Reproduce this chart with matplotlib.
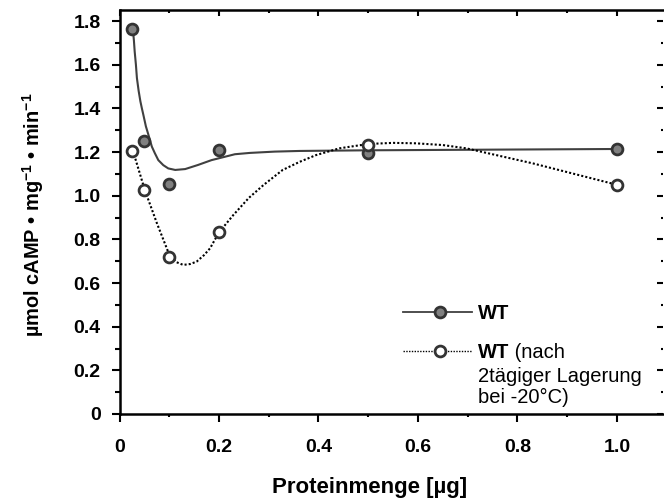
import matplotlib
matplotlib.use('Agg')
import matplotlib.pyplot as plt
from matplotlib.ticker import MultipleLocator

plt.rcParams['font.family'] = ['Liberation Sans', 'DejaVu Sans']
plt.rcParams['mathtext.fontset'] = 'custom'
plt.rcParams['mathtext.rm'] = 'Liberation Sans:bold'
plt.rcParams['mathtext.bf'] = 'Liberation Sans:bold'
plt.rcParams['mathtext.it'] = 'Liberation Sans:bold'
plt.rcParams['mathtext.default'] = 'regular'

# ---- data ----
protein = [0.025, 0.05, 0.1, 0.2, 0.5, 1.0]
wt = [1.762, 1.251, 1.055, 1.208, 1.196, 1.214]
wt_stored = [1.206, 1.025, 0.721, 0.833, 1.232, 1.049]

# fitted curves as drawn in the picture
wt_fit_x = [0.027, 0.029, 0.0305, 0.033, 0.035, 0.0385, 0.042, 0.045, 0.048,
            0.053, 0.058, 0.065, 0.071, 0.078, 0.088, 0.098, 0.112, 0.132,
            0.158, 0.185, 0.232, 0.262, 0.312, 0.362, 0.5, 0.75, 1.0]
wt_fit_y = [1.761, 1.71, 1.661, 1.6, 1.539, 1.48, 1.432, 1.40, 1.37,
            1.318, 1.28, 1.225, 1.195, 1.163, 1.14, 1.125, 1.118, 1.122,
            1.141, 1.163, 1.19, 1.196, 1.202, 1.205, 1.208, 1.211, 1.214]
stored_fit_x = [0.027, 0.051, 0.075, 0.1, 0.115, 0.128, 0.142, 0.155, 0.17,
                0.182, 0.2, 0.229, 0.26, 0.29, 0.328, 0.362, 0.395, 0.442,
                0.5, 0.55, 0.596, 0.65, 0.697, 0.831, 1.0]
stored_fit_y = [1.206, 1.025, 0.875, 0.73, 0.695, 0.683, 0.687, 0.698, 0.728,
                0.759, 0.832, 0.912, 0.99, 1.05, 1.118, 1.155, 1.186, 1.217,
                1.237, 1.242, 1.24, 1.232, 1.217, 1.148, 1.05]

xtick_vals = [0, 0.2, 0.4, 0.6, 0.8, 1.0]
xtick_labels = ['0', '0.2', '0.4', '0.6', '0.8', '1.0']
ytick_vals = [0, 0.2, 0.4, 0.6, 0.8, 1.0, 1.2, 1.4, 1.6, 1.8]
ytick_labels = ['0', '0.2', '0.4', '0.6', '0.8', '1.0', '1.2', '1.4', '1.6', '1.8']

xlabel = 'Proteinmenge [µg]'
ylabel = 'µmol cAMP • mg$^{-1}$ • min$^{-1}$'
legend_1 = 'WT'
legend_2_bold = 'WT'
legend_2_rest = [' (nach', '2tägiger Lagerung', 'bei -20°C)']

line_col = '#404040'
edge_col = '#333333'
fill_col = '#808080'

fig = plt.figure(figsize=(6.64, 5.0), dpi=100)
ax = fig.add_axes([119.5 / 664, 86 / 500, 543.5 / 664, 404 / 500])
ax.set_xlim(0, 1.0925)
ax.set_ylim(0, 1.8507)

# curves
ax.plot(wt_fit_x, wt_fit_y, color=line_col, lw=1.5, zorder=2,
        solid_joinstyle='round')
ax.plot(stored_fit_x, stored_fit_y, color='black', lw=1.5,
        linestyle=(0, (1, 1)), zorder=2)
# points
ax.plot(protein, wt, ls='none', marker='o', ms=7.8, mew=2.0,
        mfc=fill_col, mec=edge_col, zorder=4, clip_on=False)
ax.plot(protein, wt_stored, ls='none', marker='o', ms=7.8, mew=2.0,
        mfc='white', mec=edge_col, zorder=4, clip_on=False)

# spines
ax.spines['right'].set_visible(False)
ax.spines['top'].set_visible(False)
for s in ['left', 'bottom']:
    ax.spines[s].set_linewidth(1.8)

ax.set_xticks(xtick_vals, xtick_labels, fontweight='bold', fontsize=14)
ax.set_yticks(ytick_vals, ytick_labels, fontweight='bold', fontsize=14)
ax.xaxis.set_minor_locator(MultipleLocator(0.1))
ax.yaxis.set_minor_locator(MultipleLocator(0.1))
ax.tick_params(axis='x', which='major', direction='out', length=6, width=1.5,
               pad=12, top=False)
ax.tick_params(axis='x', which='minor', direction='out', length=2.5, width=1.5,
               top=False)
ax.tick_params(axis='y', which='major', direction='out', length=5.5, width=1.5,
               pad=8, right=False)
ax.tick_params(axis='y', which='minor', direction='out', length=3.5, width=1.5,
               right=False)

# top axis with inward ticks
secx = ax.secondary_xaxis('top')
secx.xaxis.set_major_locator(MultipleLocator(0.2))
secx.xaxis.set_minor_locator(MultipleLocator(0.1))
secx.tick_params(which='major', direction='in', length=4.3, width=1.5,
                 labeltop=False)
secx.tick_params(which='minor', direction='in', length=2.0, width=1.5)
secx.spines['top'].set_linewidth(1.8)

# right ticks without spine
secy = ax.secondary_yaxis('right')
secy.yaxis.set_major_locator(MultipleLocator(0.2))
secy.yaxis.set_minor_locator(MultipleLocator(0.1))
secy.tick_params(which='major', direction='in', length=4.0, width=1.5,
                 labelright=False)
secy.tick_params(which='minor', direction='in', length=1.7, width=1.5)
secy.spines['right'].set_visible(False)

# axis labels
fig.text(370 / 664, 1 - 487 / 500, xlabel, ha='center', va='center',
         fontsize=16, fontweight='bold')
fig.text(33 / 664, 1 - 215 / 500, ylabel, ha='center', va='center',
         rotation=90, fontsize=14.4, fontweight='bold')

# legend (drawn by hand)
tr = ax.transAxes
ax.plot([0.5216, 0.6486], [0.2525, 0.2525], color=line_col, lw=1.3,
        transform=tr, clip_on=False)
ax.plot([0.5897], [0.2525], marker='o', ms=7.8, mew=2.0, mfc=fill_col,
        mec=edge_col, transform=tr, clip_on=False)
ax.plot([0.5216, 0.6486], [0.156, 0.156], color='black', lw=1.0,
        linestyle=(0, (1, 1)), transform=tr, clip_on=False)
ax.plot([0.5897], [0.156], marker='o', ms=7.8, mew=2.0, mfc='white',
        mec=edge_col, transform=tr, clip_on=False)
ax.text(0.6596, 0.2351, legend_1, transform=tr, fontsize=14.5,
        fontweight='bold', va='baseline', ha='left')
t2 = ax.text(0.6596, 0.1386, legend_2_bold, transform=tr, fontsize=14.5,
             fontweight='bold', va='baseline', ha='left')
ax.annotate(legend_2_rest[0], xy=(1, 0), xycoords=t2, fontsize=14.5,
            va='bottom', ha='left')
ax.text(0.6596, 0.0792, legend_2_rest[1], transform=tr, fontsize=14.5,
        va='baseline', ha='left')
ax.text(0.6596, 0.0272, legend_2_rest[2], transform=tr, fontsize=14.5,
        va='baseline', ha='left')

fig.savefig('out.png', dpi=100)
